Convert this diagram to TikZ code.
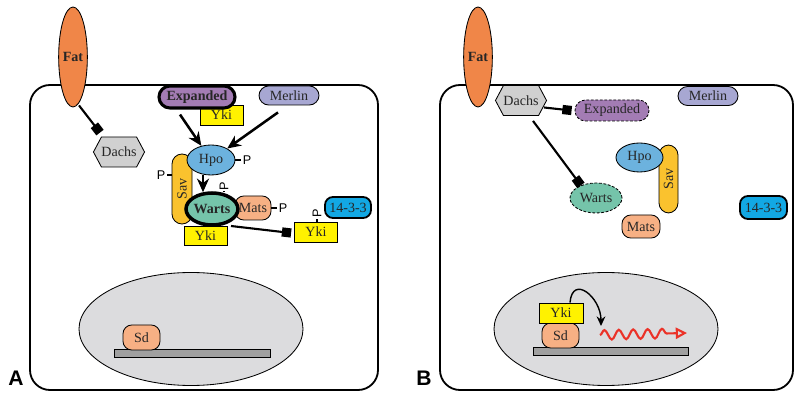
\documentclass[tikz,border=0pt]{standalone}
\usepackage{fontspec}
\setmainfont{Liberation Serif}
\setsansfont{Liberation Sans}
\usetikzlibrary{arrows.meta,shapes.geometric,shapes.symbols,decorations.pathmorphing,calc}
\definecolor{fatc}{RGB}{240,134,72}
\definecolor{dachsc}{RGB}{208,208,208}
\definecolor{expc}{RGB}{163,124,180}
\definecolor{merlinc}{RGB}{167,167,210}
\definecolor{ykic}{RGB}{255,242,0}
\definecolor{hpoc}{RGB}{108,178,222}
\definecolor{savc}{RGB}{250,194,46}
\definecolor{wartsc}{RGB}{117,196,170}
\definecolor{matsc}{RGB}{247,176,132}
\definecolor{c1433}{RGB}{18,168,228}
\definecolor{nucc}{RGB}{220,220,222}
\definecolor{dnac}{RGB}{160,160,160}
\definecolor{mrnac}{RGB}{235,50,40}

\begin{document}
\begin{tikzpicture}[x=0.25mm,y=-0.25mm]
  \tikzstyle{prot}=[draw,line width=0.6pt,inner sep=0pt,text=black!85]
  \tikzstyle{pill}=[prot,rectangle,rounded corners=2.4mm]
  \tikzstyle{peach}=[pill,fill=matsc,rounded corners=2.2mm]
  \tikzstyle{blob}=[prot,ellipse]
  \tikzstyle{lost}=[dash pattern=on 2pt off 1.2pt]
  \tikzstyle{box}=[prot,rectangle,fill=ykic,minimum width=10.75mm,minimum height=5mm]
  \tikzstyle{hexa}=[prot,signal,signal to=east and west,signal pointer angle=124,fill=dachsc,minimum width=12mm,minimum height=7.5mm]
  \tikzstyle{fat}=[blob,fill=fatc,minimum width=7mm,minimum height=25mm,font=\bfseries]
  \tikzstyle{sav}=[pill,fill=savc,rotate=90,minimum width=17.5mm,minimum height=5mm,rounded corners=2.5mm]
  \tikzstyle{phos}=[inner sep=1.2pt,font=\sffamily\fontsize{9}{10}\selectfont]
  \tikzstyle{ptick}=[line width=1pt]
  \tikzstyle{act}=[-{Stealth[length=3.4mm,width=3mm]},line width=1.8pt]
  \tikzstyle{inh}=[-{Square[length=2.3mm,width=2.3mm]},line width=1.5pt]
  \tikzstyle{cell}=[line width=1.3pt,rounded corners=5mm]
  \tikzstyle{nucleus}=[draw,ellipse,fill=nucc,line width=0.6pt,minimum width=56mm,minimum height=28.25mm]
  \tikzstyle{dna}=[draw,fill=dnac,line width=0.6pt,inner sep=0pt,minimum height=2mm]
  \tikzstyle{mrna}=[draw=mrnac,line width=1.5pt,decorate,decoration={snake,amplitude=1.2mm,segment length=3.6mm,post length=3.5mm},-{Triangle[open,length=2.8mm,width=2.8mm]}]
  \tikzstyle{panel}=[font=\sffamily\bfseries\fontsize{15}{18}\selectfont]

  \useasboundingbox (0,0) rectangle (800,404);

  % A
  \draw[cell] (30,85) rectangle (378,390);
  \node[nucleus] (nucA) at (191,329) {};
  \node[dna,minimum width=39mm] (dnaA) at (192,353) {};
  \node[peach,minimum width=9.25mm,minimum height=6.25mm] (sdA) at (141.5,337.5) {Sd};
  \node[fat] (fatA) at (73,57) {Fat};
  \node[hexa] (dachsA) at (119,152) {Dachs};
  \node[box] (yki1A) at (221.5,115) {Yki};
  \node[pill,fill=expc,line width=2.2pt,font=\bfseries,minimum width=19mm,minimum height=5.5mm,rounded corners=2.75mm] (expA) at (197,97) {Expanded};
  \node[pill,fill=merlinc,minimum width=15mm,minimum height=4.75mm] (merA) at (289,95.5) {Merlin};
  \node[sav] (savA) at (182,189) {Sav};
  \node[peach,minimum width=9mm,minimum height=6mm] (matsA) at (253,208) {Mats};
  \node[box,minimum height=4.75mm] (yki2A) at (205.5,235.5) {Yki};
  \node[blob,fill=hpoc,minimum width=12mm,minimum height=7.5mm] (hpoA) at (211,160) {Hpo};
  \node[blob,fill=wartsc,line width=2.5pt,font=\bfseries,minimum width=13mm,minimum height=8mm] (wartsA) at (212,209) {Warts};
  \node[box] (yki3A) at (316,232) {Yki};
  \node[pill,fill=c1433,line width=1.3pt,minimum width=11.5mm,minimum height=5.25mm,rounded corners=2mm] (sttA) at (348,207.5) {14-3-3};

  \node[phos] (pHpoA) at (247,160) {P};
  \node[phos] (pSavA) at (161,175) {P};
  \node[phos,rotate=90] (pWartsA) at (224,186) {P};
  \node[phos] (pMatsA) at (283,208) {P};
  \node[phos,rotate=90] (pYkiA) at (317,213) {P};
  \draw[ptick] (hpoA) -- (pHpoA);
  \draw[ptick] (pSavA) -- (pSavA -| savA.north);
  \draw[ptick] (pWartsA) -- (pWartsA |- wartsA.north);
  \draw[ptick] (matsA) -- (pMatsA);
  \draw[ptick] (pYkiA) -- (pYkiA |- yki3A.north);

  \draw[act] ($(expA.south)+(-17,5)$) -- (hpoA);
  \draw[act] ($(merA.south)+(-11,7)$) -- (hpoA);
  \draw[act] ($(hpoA.south)+(-8,0)$) -- ($(wartsA.north)+(-9,1)$);
  \draw[inh] ($(fatA.south)+(6,-2)$) -- ($(dachsA.north)+(-19,-4)$);
  \draw[inh] ($(wartsA.center)+(19,17)$) -- ($(yki3A.west)+(-3,1)$);

  \node[panel] (labA) at (16,378) {A};

  % B
  \draw[cell] (440,85) rectangle (793,390);
  \node[nucleus] (nucB) at (606,329) {};
  \node[dna,minimum width=38.75mm] (dnaB) at (610.5,351.5) {};
  \node[peach,minimum width=9.25mm,minimum height=6.25mm] (sdB) at (560.5,335.5) {Sd};
  \node[box,minimum width=11mm] (ykiB) at (561,313) {Yki};
  \node[fat] (fatB) at (478,57) {Fat};
  \node[hexa] (dachsB) at (521,100.5) {Dachs};
  \node[pill,lost,fill=expc,minimum width=18.5mm,minimum height=5.25mm,rounded corners=2.6mm] (expB) at (612,110.5) {Expanded};
  \node[pill,fill=merlinc,minimum width=15mm,minimum height=4.75mm] (merB) at (708,96) {Merlin};
  \node[sav,minimum width=17mm,minimum height=4.75mm] (savB) at (668.5,179) {Sav};
  \node[blob,fill=hpoc,minimum width=11.75mm,minimum height=7.25mm] (hpoB) at (639.5,157.5) {Hpo};
  \node[blob,lost,fill=wartsc,minimum width=13mm,minimum height=7.5mm] (wartsB) at (596,198) {Warts};
  \node[peach,minimum width=9.5mm,minimum height=5.75mm] (matsB) at (641,226.5) {Mats};
  \node[pill,fill=c1433,line width=1.3pt,minimum width=11.75mm,minimum height=5.75mm,rounded corners=2mm] (sttB) at (763.5,207.5) {14-3-3};

  \draw[inh] ($(dachsB.east)+(-3,7)$) -- ($(expB.west)+(-3,0)$);
  \draw[inh] ($(dachsB.south)+(12,5)$) -- (wartsB.140);

  \coordinate (tssB) at (601,326);
  \coordinate (mrnaS) at (600,335);
  \coordinate (mrnaE) at (687,333);
  \draw[-{Stealth[length=2.4mm,width=2.2mm]},line width=1pt] ($(ykiB.north)+(9,0)$) to[out=85,in=90,looseness=1.9] (tssB);
  \draw[mrna] (mrnaS) -- (mrnaE);

  \node[panel] (labB) at (424,378) {B};
\end{tikzpicture}
\end{document}
